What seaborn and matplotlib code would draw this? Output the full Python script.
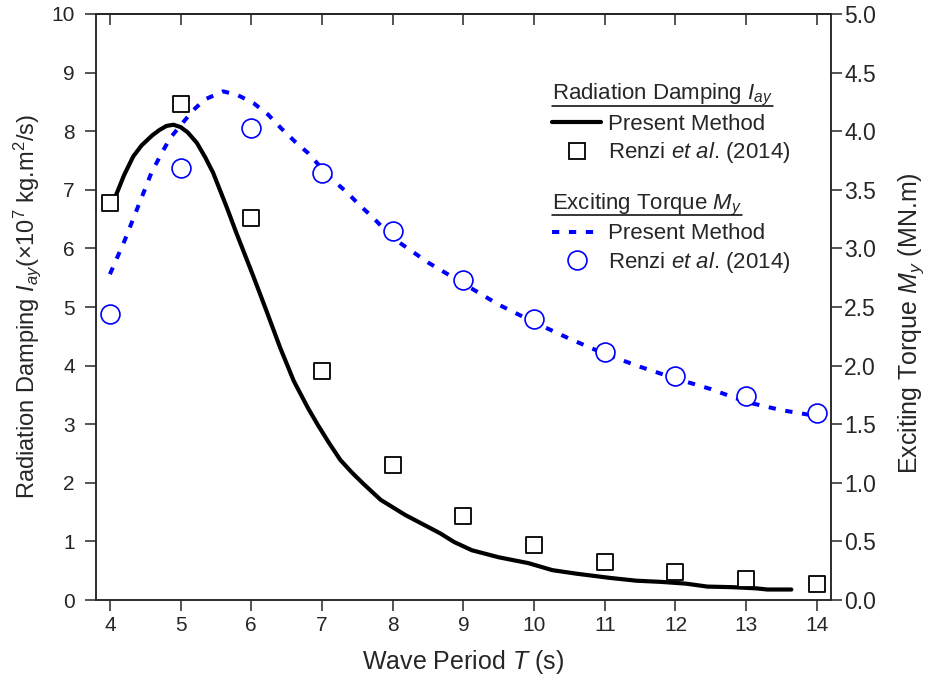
import numpy as np
import pandas as pd
import matplotlib
matplotlib.use("Agg")
import matplotlib.pyplot as plt
from matplotlib.lines import Line2D
from matplotlib.ticker import MultipleLocator, FormatStrFormatter
import seaborn as sns

sns.set_style("ticks")
plt.rcParams['font.family'] = ['Liberation Sans', 'DejaVu Sans']
plt.rcParams['mathtext.fontset'] = 'custom'
plt.rcParams['mathtext.rm'] = 'Liberation Sans'
plt.rcParams['mathtext.it'] = 'Liberation Sans:italic'
plt.rcParams['axes.linewidth'] = 1.1

# Renzi et al. (2014) reference points
T_ref = [4, 5, 6, 7, 8, 9, 10, 11, 12, 13, 14]
rad_ref = [6.78, 8.46, 6.52, 3.91, 2.30, 1.43, 0.94, 0.65, 0.48, 0.36, 0.27]
torque_ref = [2.44, 3.69, 4.03, 3.64, 3.15, 2.73, 2.40, 2.12, 1.91, 1.74, 1.60]

# present method - radiation damping (x10^7 kg.m^2/s)
T_rad = [4.0, 4.1, 4.2, 4.33, 4.45, 4.6, 4.7, 4.8, 4.9, 5.0, 5.1, 5.23, 5.35, 5.46,
         5.65, 5.79, 6.03, 6.2, 6.41, 6.6, 6.8, 6.94, 7.1, 7.26, 7.42, 7.58, 7.83,
         8.18, 8.67, 8.87, 9.12, 9.5, 9.92, 10.26, 10.6, 11.06, 11.45, 11.8, 12.15,
         12.45, 12.8, 13.14, 13.3, 13.64]
rad_pm = [6.68, 6.95, 7.25, 7.57, 7.76, 7.93, 8.02, 8.09, 8.11, 8.07, 7.98, 7.8, 7.55,
          7.29, 6.71, 6.26, 5.52, 4.98, 4.30, 3.74, 3.28, 2.99, 2.68, 2.39, 2.18,
          1.99, 1.71, 1.45, 1.14, 0.99, 0.85, 0.73, 0.63, 0.51, 0.45, 0.38, 0.33,
          0.31, 0.28, 0.23, 0.22, 0.20, 0.18, 0.18]

# present method - exciting torque (MN.m)
T_trq = [4.0, 4.21, 4.4, 4.59, 4.73, 4.85, 5.0, 5.18, 5.34, 5.6, 5.8, 6.03, 6.24,
         6.43, 6.62, 6.81, 7.0, 7.16, 7.35, 7.53, 7.71, 8.0, 8.5, 9.0, 9.5, 10.0,
         10.5, 11.0, 11.5, 12.0, 12.5, 13.0, 13.5, 14.0]
trq_pm = [2.78, 3.07, 3.36, 3.65, 3.81, 3.94, 4.05, 4.18, 4.27, 4.34, 4.31, 4.24, 4.14,
          4.02, 3.91, 3.81, 3.68, 3.58, 3.48, 3.37, 3.27, 3.09, 2.88, 2.70, 2.52, 2.37,
          2.23, 2.10, 1.99, 1.89, 1.80, 1.69, 1.62, 1.57]

df_ref = pd.DataFrame({'T': T_ref, 'rad': rad_ref, 'trq': torque_ref})
df_rad = pd.DataFrame({'T': T_rad, 'rad': rad_pm})
df_trq = pd.DataFrame({'T': T_trq, 'trq': trq_pm})

BLUE = '#0000ff'

fig = plt.figure(figsize=(9.3, 6.85), dpi=100)
ax = fig.add_axes([0.103, 0.124, 0.7905, 0.8556])
ax2 = ax.twinx()

sns.lineplot(data=df_rad, x='T', y='rad', ax=ax, color='black', lw=3,
             sort=False, estimator=None, zorder=2)
sns.scatterplot(data=df_ref, x='T', y='rad', ax=ax, marker='s', s=121,
                facecolor='white', edgecolor='black', linewidth=1.3, zorder=3)

sns.lineplot(data=df_trq, x='T', y='trq', ax=ax2, color=BLUE, lw=2.9,
             sort=False, estimator=None, zorder=2, dashes=False)
ax2.lines[-1].set_dashes((1.8, 2.4))
sns.scatterplot(data=df_ref, x='T', y='trq', ax=ax2, marker='o', s=185,
                facecolor='white', edgecolor=BLUE, linewidth=1.2, zorder=3)

ax.set_xlim(3.8, 14.2)
ax.set_ylim(0, 10)
ax2.set_ylim(0, 5)
ax.xaxis.set_major_locator(MultipleLocator(1))
ax.yaxis.set_major_locator(MultipleLocator(1))
ax2.yaxis.set_major_locator(MultipleLocator(0.5))
ax2.yaxis.set_major_formatter(FormatStrFormatter('%.1f'))

ax.tick_params(axis='both', direction='out', length=8, width=1.1, labelsize=15,
               top=False, right=False)
ax.tick_params(axis='y', pad=7)
ax2.tick_params(axis='y', direction='out', length=8, width=1.1, labelsize=16.5,
                left=False, pad=1.5)
top = ax.secondary_xaxis('top')
top.xaxis.set_major_locator(MultipleLocator(1))
top.tick_params(direction='in', length=8, width=1.1, labeltop=False)
for a in (ax, ax2):
    for sp in a.spines.values():
        sp.set_linewidth(1.1)

ax.set_xlabel('Wave Period $T$ (s)', fontsize=18, labelpad=9)
ax.set_ylabel('Radiation Damping $I_{ay}$(×10$^7$ kg.m$^2$/s)', fontsize=17, labelpad=6)
ax2.set_ylabel('Exciting Torque $M_y$ (MN.m)', fontsize=18)
ax2.yaxis.set_label_coords(1.089, 0.473)

h1 = [Line2D([], [], color='black', lw=3),
      Line2D([], [], ls='none', marker='s', ms=11, mfc='white', mec='black', mew=1.3)]
h2 = [Line2D([], [], color=BLUE, lw=2.9, dashes=(1.8, 2.4)),
      Line2D([], [], ls='none', marker='o', ms=13.6, mfc='white', mec=BLUE, mew=1.2)]
labels = ['Present Method', 'Renzi $et\\ al$. (2014)']

leg_kw = dict(loc='upper left', bbox_transform=fig.transFigure, frameon=False,
              fontsize=16, title_fontsize=16, alignment='left', borderpad=0,
              borderaxespad=0, handlelength=2.2, handletextpad=0.3, labelspacing=0.25)
leg1 = ax2.legend(h1, labels, title='Radiation Damping $I_{ay}$',
                  bbox_to_anchor=(0.594, 0.88), **leg_kw)
ax2.add_artist(leg1)
leg2 = ax2.legend(h2, labels, title='Exciting Torque $M_y$',
                  bbox_to_anchor=(0.594, 0.72), **leg_kw)

# underline the legend titles
fig.canvas.draw()
r = fig.canvas.get_renderer()
for lg in (leg1, leg2):
    bb = lg.get_title().get_window_extent(r)
    y = bb.y0 + 2.5
    fig.add_artist(Line2D([bb.x0 / fig.bbox.width, bb.x1 / fig.bbox.width],
                          [y / fig.bbox.height, y / fig.bbox.height],
                          transform=fig.transFigure, color='black', lw=1.1))

fig.savefig('out.png', dpi=100)
